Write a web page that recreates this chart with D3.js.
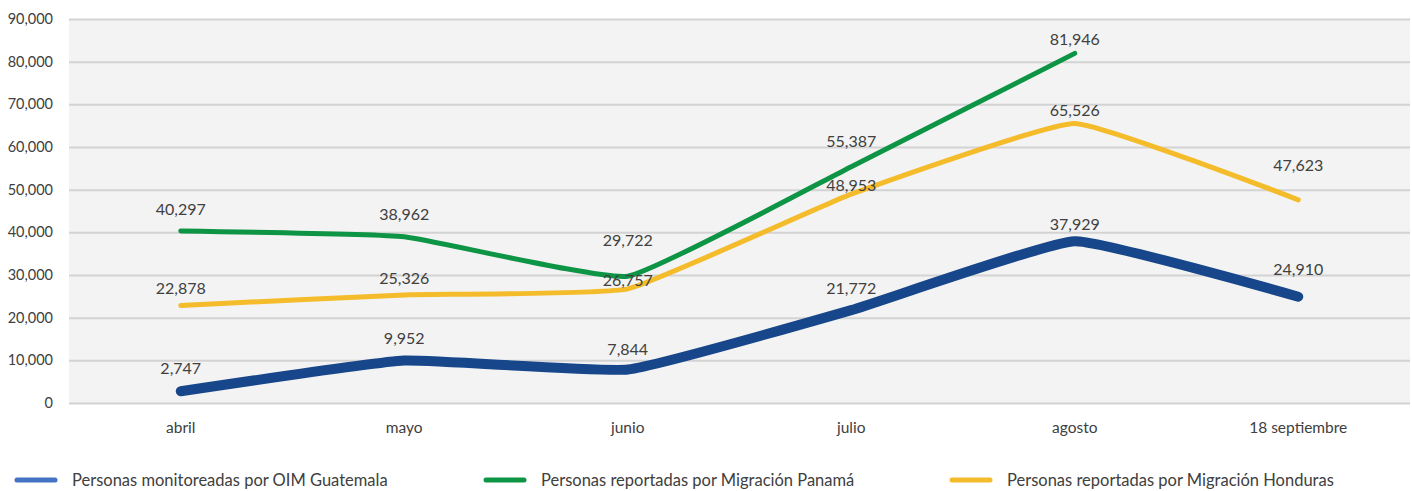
<!DOCTYPE html>
<html>
<head>
<meta charset="utf-8">
<script src="https://cdn.jsdelivr.net/npm/d3@7"></script>
<style>
  body { margin: 0; background: #fff; }
  text { font-family: Lato, "Open Sans", sans-serif; fill: #404040; }
</style>
</head>
<body>
<svg id="chart" width="1412" height="491"></svg>
<script>
// data
const months = ["abril", "mayo", "junio", "julio", "agosto", "18 septiembre"];
const guatemala = [2747, 9952, 7844, 21772, 37929, 24910];
const panama = [40297, 38962, 29722, 55387, 81946, null];
const honduras = [22878, 25326, 26757, 48953, 65526, 47623];
const seriesNames = [
    "Personas monitoreadas por OIM Guatemala",
    "Personas reportadas por Migración Panamá",
    "Personas reportadas por Migración Honduras"
];
const yTicks = [0, 10000, 20000, 30000, 40000, 50000, 60000, 70000, 80000, 90000];

const svg = d3.select("#chart");
const margins = { top: 19, right: 2, bottom: 88, left: 69 };
const width = +svg.attr("width") - margins.left - margins.right;
const height = +svg.attr("height") - margins.top - margins.bottom;

let chartArea = svg.append("g")
    .attr("transform", "translate(" + margins.left + ", " + margins.top + ")");

// scales
const xScale = d3.scaleBand().domain(months).range([0, width]).padding(0);
const yScale = d3.scaleLinear().domain([0, 90000]).range([height, 0]);
const fmt = d3.format(",");
const cx = i => xScale(months[i]) + xScale.bandwidth() / 2;

// plot background
chartArea.append("rect")
    .attr("x", 0).attr("y", 0)
    .attr("width", width).attr("height", height)
    .attr("fill", "#f3f3f3");

// gridlines
chartArea.append("g")
    .call(d3.axisLeft(yScale).tickValues(yTicks).tickSize(-width).tickFormat(""))
    .call(g => g.select(".domain").remove())
    .call(g => g.selectAll("line").attr("stroke", "#d3d3d3").attr("stroke-width", 2));

// y axis labels
chartArea.append("g")
    .attr("transform", "translate(-13, 0)")
    .call(d3.axisLeft(yScale).tickValues(yTicks).tickSize(0).tickFormat(fmt))
    .call(g => g.select(".domain").remove())
    .call(g => g.selectAll("text").attr("font-size", 14.5).style("fill", "#404040")
        .style("font-family", "Lato, 'Open Sans', sans-serif"));

// x axis labels
chartArea.append("g")
    .attr("transform", "translate(0, " + height + ")")
    .call(d3.axisBottom(xScale).tickSize(0).tickPadding(19))
    .call(g => g.select(".domain").remove())
    .call(g => g.selectAll("text").attr("font-size", 15.5).style("fill", "#404040")
        .style("font-family", "Lato, 'Open Sans', sans-serif"));

// label lift = how far each label baseline sits above its point, as in the original
const series = [
    { name: seriesNames[0], values: guatemala, color: "#17468a", legend: "#4472c4", w: 10,
      lift: [17, 17, 15, 16, 11, 22] },
    { name: seriesNames[1], values: panama, color: "#0d9444", legend: "#0d9444", w: 5,
      lift: [16, 17, 30, 20, 8, 0] },
    { name: seriesNames[2], values: honduras, color: "#f4bb2a", legend: "#f4bb2a", w: 5,
      lift: [11, 11, 3, 3, 7, 29] }
];

const line = d3.line()
    .defined(d => d != null)
    .x((d, i) => cx(i))
    .y(d => yScale(d))
    .curve(d3.curveCardinal.tension(0.65));

// draw lines, yellow under green, blue on top
[series[2], series[1], series[0]].forEach(function (s) {
    chartArea.append("path")
        .datum(s.values)
        .attr("d", line)
        .attr("fill", "none")
        .attr("stroke", s.color)
        .attr("stroke-width", s.w)
        .attr("stroke-linecap", "round")
        .attr("stroke-linejoin", "round");
});

// data labels
series.forEach(function (s) {
    s.values.forEach(function (v, i) {
        if (v == null) return;
        chartArea.append("text")
            .attr("x", cx(i))
            .attr("y", yScale(v) - s.lift[i])
            .attr("text-anchor", "middle")
            .attr("font-size", 16)
            .text(fmt(v));
    });
});

// legend
const legendX = [15, 484, 950];
series.forEach(function (s, i) {
    let g = svg.append("g").attr("transform", "translate(" + legendX[i] + ", 480)");
    g.append("line")
        .attr("x1", 2).attr("x2", 40)
        .attr("stroke", s.legend).attr("stroke-width", 5)
        .attr("stroke-linecap", "round");
    g.append("text")
        .attr("x", 57).attr("dy", "0.35em")
        .attr("font-size", 16.5)
        .text(s.name);
});
</script>
</body>
</html>
